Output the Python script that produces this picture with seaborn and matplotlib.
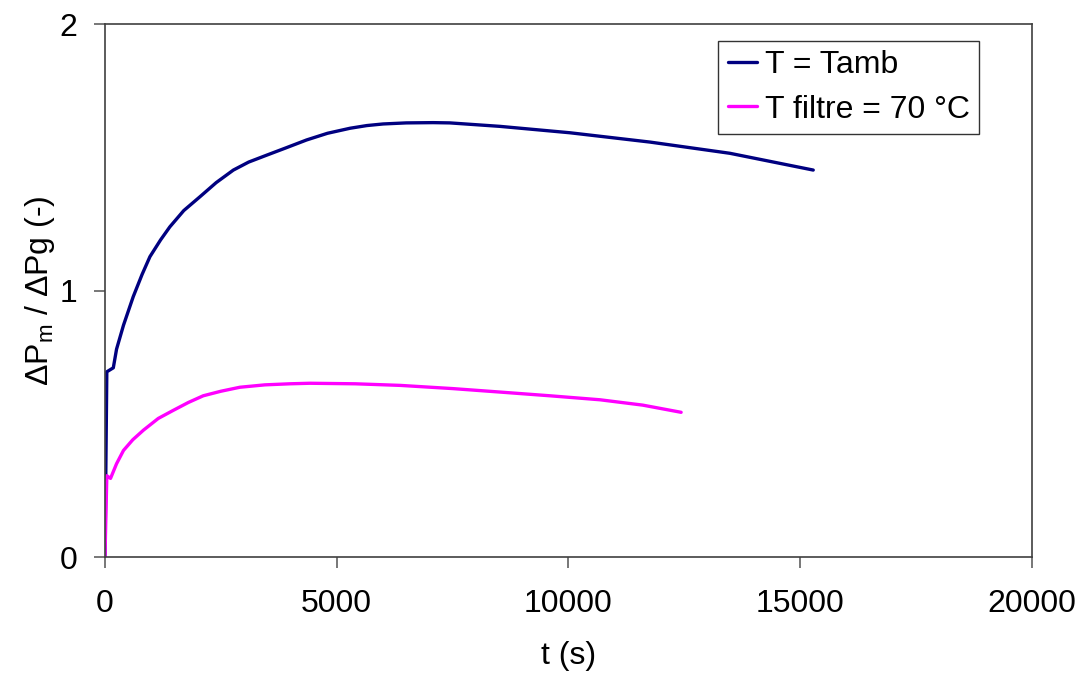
import numpy as np
import pandas as pd
import matplotlib
matplotlib.use('Agg')
import matplotlib.pyplot as plt
import seaborn as sns

# values
t_amb = [0, 40, 180, 250, 400, 610, 800, 970, 1200, 1400, 1700, 2050, 2400,
         2770, 3100, 3490, 3900, 4350, 4800, 5290, 5650, 6000, 6500, 7080,
         7440, 8520, 10030, 11760, 13480, 15280]
r_amb = [0.0, 0.695, 0.71, 0.78, 0.87, 0.977, 1.06, 1.127, 1.19, 1.239, 1.30,
         1.352, 1.405, 1.452, 1.482, 1.508, 1.535, 1.565, 1.59, 1.609, 1.619,
         1.625, 1.629, 1.630, 1.629, 1.616, 1.592, 1.557, 1.515, 1.452]

t_70 = [0, 40, 120, 250, 400, 600, 830, 1150, 1470, 1800, 2120, 2500, 2910,
        3450, 3990, 4420, 5400, 6370, 7500, 8520, 9600, 10680, 11600, 12430]
r_70 = [0.0, 0.305, 0.295, 0.35, 0.40, 0.44, 0.476, 0.52, 0.55, 0.58, 0.605,
        0.622, 0.637, 0.646, 0.650, 0.652, 0.650, 0.644, 0.632, 0.619, 0.605,
        0.590, 0.570, 0.543]

labels = ['T = Tamb', 'T filtre = 70 °C']
colors = ['#000080', '#FF00FF']

df = pd.concat([
    pd.DataFrame({'t': t_amb, 'r': r_amb, 'serie': labels[0]}),
    pd.DataFrame({'t': t_70, 'r': r_70, 'serie': labels[1]}),
])

sns.set_style('white')
plt.rcParams['font.family'] = ['Liberation Sans', 'DejaVu Sans']
plt.rcParams['mathtext.fontset'] = 'custom'
plt.rcParams['mathtext.rm'] = 'Liberation Sans'
plt.rcParams['text.color'] = 'black'
plt.rcParams['axes.labelcolor'] = 'black'
plt.rcParams['xtick.color'] = 'black'
plt.rcParams['ytick.color'] = 'black'

fig = plt.figure(figsize=(10.81, 6.75), dpi=100)
ax = fig.add_axes([0.0971, 0.1748, 0.8576, 0.7896])

sns.lineplot(data=df, x='t', y='r', hue='serie', palette=colors,
             linewidth=2.4, sort=False, estimator=None, ax=ax)

ax.set_xlim(0, 20000)
ax.set_ylim(0, 2)
ax.set_xticks([0, 5000, 10000, 15000, 20000])
ax.set_yticks([0, 1, 2])
ax.tick_params(axis='both', direction='out', length=8, width=1.2,
               labelsize=23, left=True, bottom=True)
ax.tick_params(axis='x', pad=15)
ax.tick_params(axis='y', pad=12)
ax.tick_params(axis='both', color='#606060')
for s in ax.spines.values():
    s.set_color('#404040')
    s.set_linewidth(1.2)

ax.set_xlabel('t (s)', fontsize=23, labelpad=16)
ax.set_ylabel(r'$\Delta$P$_\mathrm{m}$ / $\Delta$Pg (-)', fontsize=23, labelpad=2)

leg = ax.legend(loc='upper right', bbox_to_anchor=(0.943, 0.969), fontsize=23,
                frameon=True, fancybox=False, edgecolor='black',
                handlelength=0.9, handletextpad=0.25, borderpad=0.3,
                labelspacing=0.45, borderaxespad=0)
leg.get_frame().set_linewidth(1.0)

fig.savefig('out.png', dpi=100)
